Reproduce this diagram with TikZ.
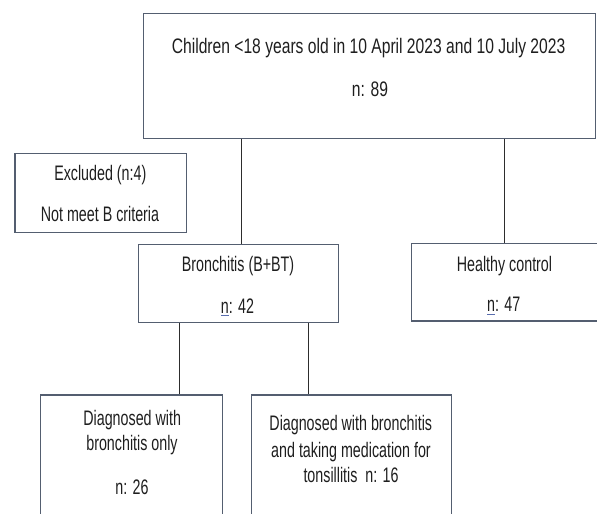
\documentclass[tikz,border=0pt]{standalone}
\usepackage{fontspec}
\setmainfont{Liberation Sans}[FakeStretch=0.68]
\newfontfamily\topfont{Liberation Sans}[FakeStretch=0.745]
\definecolor{boxc}{RGB}{84,94,112}
\definecolor{linec}{RGB}{45,45,45}
\definecolor{txtc}{RGB}{30,30,30}
\definecolor{ulc}{RGB}{90,110,175}
\newcommand{\ulnn}{{\setbox0\hbox{n}\rlap{\color{ulc}\rule[-2.8pt]{\wd0}{0.9pt}}n}}
\begin{document}
\begin{tikzpicture}[x=1pt,y=-1pt,
  box/.style={draw=boxc, line width=1.3pt, inner sep=0pt},
  big/.style={font=\topfont\fontsize{21}{24}\selectfont, text=txtc, inner sep=0pt, anchor=base},
  lbl/.style={font=\fontsize{21}{24}\selectfont, text=txtc, inner sep=0pt, anchor=base},
  conn/.style={draw=linec, line width=0.9pt}]
\useasboundingbox (0,0) rectangle (597,514);
\clip (0,0) rectangle (597,514);
% boxes
\node[box, minimum width=452pt, minimum height=125.4pt] (top) at (369.5,76) {};
\node[box, minimum width=171.7pt, minimum height=79pt] (excl) at (100.85,192.8) {};
\node[box, minimum width=200.2pt, minimum height=78.5pt] (bron) at (238.4,283.5) {};
\node[box, minimum width=228.5pt, minimum height=77.5pt] (heal) at (525.75,282.25) {};
\node[box, minimum width=181.6pt, minimum height=145pt] (only) at (131.5,467.5) {};
\node[box, minimum width=200pt, minimum height=145pt] (tons) at (351.7,467.5) {};
% texts
\node[big] (t1) at (368.6,53.3) {Children <18 years old in 10 April 2023 and 10 July 2023};
\node[big] (t2) at (370,96.7) {n: 89};
\node[lbl] (e1) at (100.3,180.7) {Excluded (n:4)};
\node[lbl] (e2) at (100,221.7) {Not meet B criteria};
\node[lbl] (b1) at (238,271.7) {Bronchitis (B+BT)};
\node[lbl] (b2) at (237.5,313.3) {\ulnn: 42};
\node[lbl] (h1) at (504.5,271.7) {Healthy control};
\node[lbl] (h2) at (503.7,311.7) {\ulnn: 47};
\node[lbl] (o1) at (132.2,425.7) {Diagnosed with};
\node[lbl] (o2) at (132,450.7) {bronchitis only};
\node[lbl] (o3) at (132,494) {n: 26};
\node[lbl] (s1) at (350.8,430.7) {Diagnosed with bronchitis};
\node[lbl] (s2) at (351,457.3) {and taking medication for};
\node[lbl] (s3) at (351,482.3) {tonsillitis\ \ n: 16};
% connectors
\draw[conn] (top.south -| 241,0) -- (bron.north -| 241,0);
\draw[conn] (top.south -| 504,0) -- (heal.north -| 504,0);
\draw[conn] (bron.south -| 179,0) -- (only.north -| 179,0);
\draw[conn] (bron.south -| 308.3,0) -- (tons.north -| 308.3,0);
\end{tikzpicture}
\end{document}
